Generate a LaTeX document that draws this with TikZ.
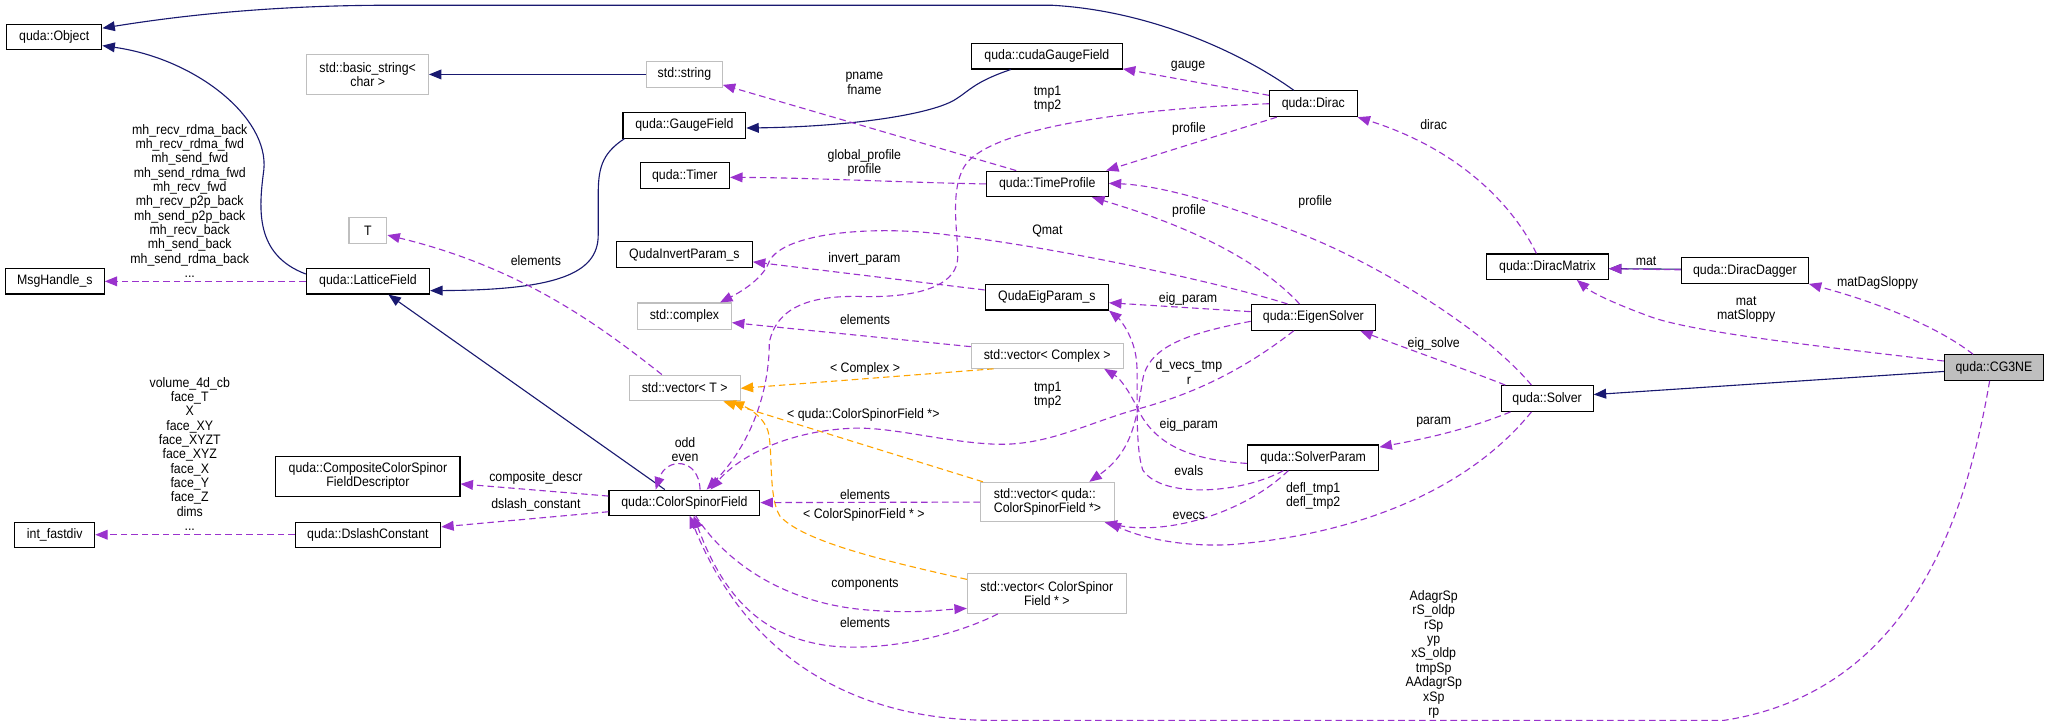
\documentclass[tikz,border=0pt]{standalone}
\usepackage{fontspec}
\setmainfont{Liberation Sans}[FakeStretch=0.9]
\usetikzlibrary{arrows.meta,calc}
\definecolor{navyc}{RGB}{25,25,112}
\definecolor{purp}{RGB}{154,50,205}
\definecolor{orng}{RGB}{255,165,0}
\definecolor{grayb}{RGB}{191,191,191}
\newcommand\dfont{\fontsize{10.5}{11}\selectfont}
\begin{document}
\begin{tikzpicture}[x=1pt,y=-1pt,
  cls/.style={draw=black, fill=white, line width=0.85pt, inner sep=0pt, align=center, font=\dfont},
  ext/.style={cls, draw=grayb},
  inh/.style={draw=navyc, line width=0.85pt, -{Triangle[length=9.5pt,width=7.5pt]}},
  use/.style={draw=purp, line width=0.85pt, dash pattern=on 5pt off 3pt, -{Triangle[length=9.5pt,width=7.5pt]}},
  tmpl/.style={draw=orng, line width=0.85pt, dash pattern=on 5pt off 3pt, -{Triangle[length=9.5pt,width=7.5pt]}},
  lbl/.style={inner sep=0pt, align=center, font=\dfont}]
\useasboundingbox (0,0) rectangle (1568,557);
\fill[white] (0,0) rectangle (1568,557);

% nodes
\node[cls, minimum width=73pt, minimum height=19pt] (obj) at (41.5,28.5) {quda::Object};
\node[ext, minimum width=93pt, minimum height=31pt] (bs) at (281.5,57) {std::basic\_string<\\char >};
\node[ext, minimum width=58pt, minimum height=20pt] (str) at (524,57) {std::string};
\node[cls, minimum width=94pt, minimum height=19.5pt] (gf) at (524,96) {quda::GaugeField};
\node[cls, minimum width=68.5pt, minimum height=20pt] (timer) at (524.3,134.5) {quda::Timer};
\node[cls, minimum width=104pt, minimum height=20pt] (qip) at (524,195) {QudaInvertParam\_s};
\node[ext, minimum width=72pt, minimum height=20pt] (cplx) at (524,242) {std::complex};
\node[ext, minimum width=29pt, minimum height=20pt] (t) at (281.7,176.4) {T};
\node[cls, minimum width=75.6pt, minimum height=19.4pt] (msg) at (42,215.4) {MsgHandle\_s};
\node[cls, minimum width=94.4pt, minimum height=19.4pt] (lf) at (281.7,215.4) {quda::LatticeField};
\node[ext, minimum width=85pt, minimum height=19.7pt] (vt) at (524.2,297) {std::vector< T >};
\node[cls, minimum width=115.5pt, minimum height=19.1pt] (csf) at (524,384.8) {quda::ColorSpinorField};
\node[cls, minimum width=141pt, minimum height=30.6pt] (comp) at (281.7,364.5) {quda::CompositeColorSpinor\\FieldDescriptor};
\node[cls, minimum width=111.4pt, minimum height=19.4pt] (dc) at (281.7,409.4) {quda::DslashConstant};
\node[cls, minimum width=61.2pt, minimum height=19.4pt] (ifd) at (41.9,409.4) {int\_fastdiv};
\node[cls, minimum width=115.5pt, minimum height=19.6pt] (cgf) at (801.5,43) {quda::cudaGaugeField};
\node[cls, minimum width=93.3pt, minimum height=19.6pt] (tp) at (801.8,140.8) {quda::TimeProfile};
\node[cls, minimum width=94.4pt, minimum height=19.7pt] (qep) at (801.5,227.5) {QudaEigParam\_s};
\node[ext, minimum width=116.3pt, minimum height=19.1pt] (vc) at (801.8,272.4) {std::vector< Complex >};
\node[ext, minimum width=102.6pt, minimum height=30.2pt, align=left] (vq) at (802,384.4) {std::vector< quda::\\ColorSpinorField *>};
\node[ext, minimum width=121.7pt, minimum height=30.6pt] (vcs) at (801.5,454.3) {std::vector< ColorSpinor\\Field * >};
\node[cls, minimum width=67pt, minimum height=19.8pt] (dirac) at (1005.5,79.4) {quda::Dirac};
\node[cls, minimum width=95pt, minimum height=19.7pt] (es) at (1005.5,243) {quda::EigenSolver};
\node[cls, minimum width=100.6pt, minimum height=19.2pt] (sp) at (1005.4,350.3) {quda::SolverParam};
\node[cls, minimum width=93.2pt, minimum height=19.4pt] (dm) at (1184.8,204.2) {quda::DiracMatrix};
\node[cls, minimum width=70.5pt, minimum height=19.7pt] (solver) at (1184.5,305.1) {quda::Solver};
\node[cls, minimum width=97.2pt, minimum height=19.7pt] (dd) at (1335.9,207.1) {quda::DiracDagger};
\node[cls, fill=grayb, minimum width=76pt, minimum height=19.5pt] (cg) at (1526.6,281.4) {quda::CG3NE};

% inheritance (navy)
\draw[inh] ([xshift=-15pt]dirac.north) .. controls (950,40) and (880,8) .. (805,4) -- (300,4) .. controls (220,4) and (150,10) .. ([yshift=-3pt]obj.north east);
\draw[inh] ([yshift=-4.5pt]lf.north west) .. controls (195,195) and (198,160) .. (202,130) .. controls (206,90) and (150,45) .. ([yshift=3.5pt]obj.south east);
\draw[inh] (str.west) -- (bs.east);
\draw[inh] ([xshift=1.5pt]gf.south west) .. controls (460,118) and (458,130) .. (458,150) -- (458,180) .. controls (458,210) and (425,222) .. ([yshift=3pt]lf.south east);
\draw[inh] ([xshift=-27.6pt]cgf.south) .. controls (745,63) and (742,70) .. (730,77) .. controls (710,88) and (650,97) .. ([yshift=-2pt]gf.east);
\draw[inh] ([xshift=-15pt]csf.north) -- ([xshift=15.7pt]lf.south);
\draw[inh] ([yshift=1pt]dd.west) -- ([yshift=-1.5pt]dm.east);
\draw[inh] ([yshift=-3pt]cg.west) -- ([yshift=3pt]solver.east);

% template instances (orange)
\draw[tmpl] ([xshift=-41pt]vc.south) -- ([yshift=-0.3pt]vt.east);
\draw[tmpl] ([xshift=2.3pt]vq.north west) -- ([xshift=29.6pt]vt.south);
\draw[tmpl] ([yshift=-5pt]vcs.north west) .. controls (680,430) and (615,415) .. (597,395) .. controls (588,380) and (592,345) .. (588,330) .. controls (584,318) and (572,312) .. ([xshift=36pt]vt.south);

% usage (purple)
\draw[use] (lf.west) -- (msg.east);
\draw[use] (dc.west) -- (ifd.east);
\draw[use] ([yshift=5pt]csf.west) -- ([yshift=-6pt]comp.east);
\draw[use] ([yshift=-7pt]csf.west) -- ([yshift=6pt]dc.east);
\draw[use] ([xshift=-17.5pt]vt.north) .. controls (460,250) and (400,205) .. ([yshift=-3.6pt]t.east);
\draw[use] ([xshift=-23.8pt]tp.north) -- ([yshift=-8pt]str.east);
\draw[use] (tp.west) .. controls (700,140) and (620,136) .. ([yshift=-1.3pt]timer.east);
\draw[use] ([yshift=6.4pt]dirac.west) -- ([yshift=0.5pt]cgf.south east);
\draw[use] (dirac.west) .. controls (850,84) and (760,100) .. (740,125) .. controls (725,145) and (735,185) .. (733,200) .. controls (730,220) and (700,228) .. (660,227) .. controls (620,226) and (595,235) .. (589,262) .. controls (589,300) and (575,340) .. ([xshift=17pt]csf.north);
\draw[use] ([xshift=-28pt]dirac.south) -- ([xshift=-2pt]tp.north east);
\draw[use] ([xshift=-8.5pt]dm.north) .. controls (1160,160) and (1120,115) .. (dirac.south east);
\draw[use] ([xshift=-10.5pt]es.north) .. controls (960,195) and (900,170) .. ([xshift=34.3pt]tp.south);
\draw[use] ([xshift=-12pt]solver.north) .. controls (1135,250) and (1050,200) .. (995,178.7) .. controls (940,157) and (890,142) .. ([yshift=0.4pt]tp.east);
\draw[use] ([yshift=4.4pt]es.west) -- ([yshift=-4.3pt]qep.east);
\draw[use] ([xshift=-19.7pt]es.north) .. controls (930,215) and (800,188) .. (727,180) .. controls (670,172) and (600,178) .. (589,200) .. controls (585,212) and (570,222) .. ([xshift=27.3pt]cplx.north);
\draw[use] ([yshift=5.5pt]qep.west) -- ([yshift=-5.5pt]qip.east);
\draw[use] ([yshift=7pt]vc.west) -- ([yshift=-5pt]cplx.east);
\draw[use] (vq.west) -- (csf.east);
\draw[use] ([xshift=12pt]csf.north) .. controls (535,350) and (510,350) .. ([xshift=-22pt]csf.north);
\draw[use] ([xshift=8.5pt]csf.south) .. controls (555,430) and (600,462) .. (664,467) .. controls (700,470) and (720,467) .. ([yshift=-11.5pt]vcs.west);
\draw[use] ([xshift=-37.5pt]vcs.south) .. controls (720,492) and (660,500) .. (626,493) .. controls (585,485) and (555,460) .. ([xshift=7pt]csf.south);
\draw[use] ([xshift=-3.3pt]cg.south) .. controls (1505,400) and (1460,530) .. (1320,551.5) -- (760,551.5) .. controls (650,551.5) and (570,500) .. ([xshift=4pt]csf.south);
\draw[use] ([xshift=-12pt]solver.south) .. controls (1120,380) and (1030,410) .. (942,417) .. controls (900,419) and (870,410) .. ([xshift=-5pt]vq.south east);
\draw[use] ([xshift=-19pt]sp.south) .. controls (950,395) and (890,410) .. ([xshift=-8pt]vq.south east);
\draw[use] ([xshift=-22.8pt]sp.south) .. controls (950,378) and (890,382) .. (875,360) .. controls (868,340) and (872,290) .. (870,275) .. controls (868,258) and (858,245) .. (qep.south east);
\draw[use] ([yshift=-4.5pt]sp.west) .. controls (910,352) and (885,340) .. (872,315) .. controls (865,300) and (858,290) .. ([xshift=-15pt]vc.south east);
\draw[use] ([yshift=-3pt]es.west) .. controls (910,255) and (880,265) .. (875,290) .. controls (870,320) and (868,345) .. ([xshift=32pt]vq.north);
\draw[use] ([xshift=-15pt]es.south) .. controls (950,285) and (910,303) .. (868,314) .. controls (830,325) and (800,342) .. (760,340) .. controls (720,338) and (680,326) .. (650,328) .. controls (610,330) and (570,345) .. ([xshift=20pt]csf.north);
\draw[use] ([xshift=-32pt]solver.north) .. controls (1120,282) and (1080,268) .. ([xshift=-12pt]es.south east);
\draw[use] ([xshift=-28pt]solver.south) .. controls (1120,330) and (1090,336) .. ([yshift=8pt]sp.east);
\draw[use] ([yshift=5pt]cg.west) .. controls (1400,266) and (1300,255) .. (1265,243) .. controls (1240,234) and (1220,225) .. ([xshift=22.5pt]dm.south);
\draw[use] ([xshift=-16pt]cg.north) .. controls (1490,255) and (1450,235) .. (dd.south east);
\draw[use] ([yshift=0.5pt]dd.west) -- ([yshift=-1.5pt]dm.east);

% labels
\node[lbl] (l1) at (145.3,153.8) {mh\_recv\_rdma\_back\\mh\_recv\_rdma\_fwd\\mh\_send\_fwd\\mh\_send\_rdma\_fwd\\mh\_recv\_fwd\\mh\_recv\_p2p\_back\\mh\_send\_p2p\_back\\mh\_recv\_back\\mh\_send\_back\\mh\_send\_rdma\_back\\...};
\node[lbl] (l2) at (145.3,347.5) {volume\_4d\_cb\\face\_T\\X\\face\_XY\\face\_XYZT\\face\_XYZ\\face\_X\\face\_Y\\face\_Z\\dims\\...};
\node[lbl] (l3) at (410.3,366.2) {composite\_descr};
\node[lbl] (l4) at (410.3,386.7) {dslash\_constant};
\node[lbl] (l5) at (410.3,199.8) {elements};
\node[lbl] (l6) at (661.8,63.8) {pname\\fname};
\node[lbl] (l7) at (661.8,125) {global\_profile\\profile};
\node[lbl] (l8) at (909.6,51) {gauge};
\node[lbl] (l9) at (802,76) {tmp1\\tmp2};
\node[lbl] (l10) at (910.3,98.8) {profile};
\node[lbl] (l11) at (1097.7,95.5) {dirac};
\node[lbl] (l12) at (910.3,161.3) {profile};
\node[lbl] (l13) at (1007,155) {profile};
\node[lbl] (l14) at (909.6,229) {eig\_param};
\node[lbl] (l15) at (801.9,176.6) {Qmat};
\node[lbl] (l16) at (661.8,198.6) {invert\_param};
\node[lbl] (l17) at (662.3,244.5) {elements};
\node[lbl] (l18) at (662.3,282.5) {< Complex >};
\node[lbl] (l19) at (661,317.8) {< quda::ColorSpinorField *>};
\node[lbl] (l20) at (661.4,394.3) {< ColorSpinorField * >};
\node[lbl] (l21) at (662.3,379) {elements};
\node[lbl] (l22) at (524.5,344.4) {odd\\even};
\node[lbl] (l23) at (662.3,447.2) {components};
\node[lbl] (l24) at (662.3,476.7) {elements};
\node[lbl] (l25) at (1097.7,501) {AdagrSp\\rS\_oldp\\rSp\\yp\\xS\_oldp\\tmpSp\\AAdagrSp\\xSp\\rp};
\node[lbl] (l26) at (1005.4,379.6) {defl\_tmp1\\defl\_tmp2};
\node[lbl] (l27) at (910.2,394.9) {evecs};
\node[lbl] (l28) at (910.2,325.4) {eig\_param};
\node[lbl] (l29) at (910.2,360.4) {evals};
\node[lbl] (l30) at (910.2,284.7) {d\_vecs\_tmp\\r};
\node[lbl] (l31) at (802.2,302.6) {tmp1\\tmp2};
\node[lbl] (l32) at (1097.7,263.4) {eig\_solve};
\node[lbl] (l33) at (1097.7,323.6) {param};
\node[lbl] (l34) at (1336.9,237.1) {mat\\matSloppy};
\node[lbl] (l35) at (1437.5,216.4) {matDagSloppy};
\node[lbl] (l36) at (1260.3,199.8) {mat};
\end{tikzpicture}
\end{document}
